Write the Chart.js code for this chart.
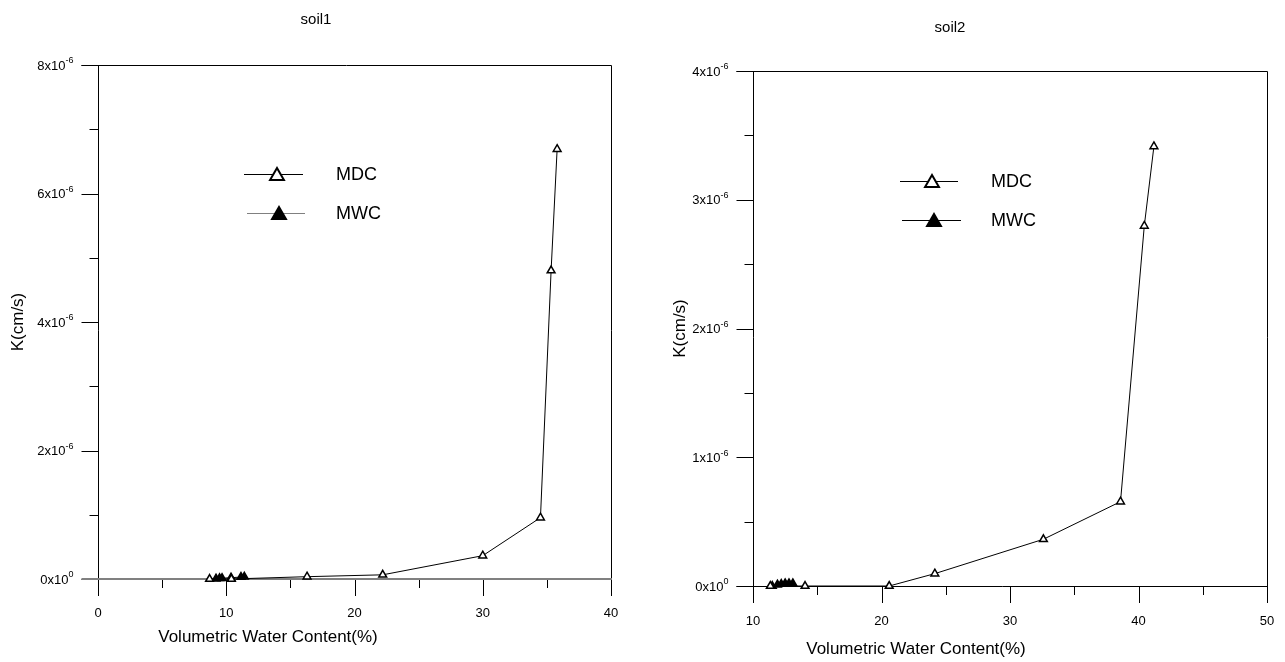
<!DOCTYPE html>
<html>
<head>
<meta charset="utf-8">
<script src="https://cdn.jsdelivr.net/npm/chart.js@4.4.1/dist/chart.umd.min.js"></script>
<style>
  body { margin: 0; background: #fff; }
  #wrap { position: relative; width: 1285px; height: 662px; }
  canvas { position: absolute; top: 0; }
</style>
</head>
<body>
<div id="wrap">
  <canvas id="soil1" width="642" height="662" style="left:0"></canvas>
  <canvas id="soil2" width="643" height="662" style="left:642px"></canvas>
</div>
<script>
// soil1 - volumetric water content (%) vs K (cm/s)
const soil1MdcX = [8.7, 10.4, 16.3, 22.2, 30.0, 34.5, 35.33, 35.8];
const soil1MdcK = [0, 0, 0.036e-6, 0.065e-6, 0.363e-6, 0.955e-6, 4.80e-6, 6.69e-6];
const soil1MwcX = [9.2, 9.48, 9.67, 10.37, 11.15, 11.41];
const soil1MwcK = [0.005e-6, 0.01e-6, 0.012e-6, 0.02e-6, 0.03e-6, 0.035e-6];
const soil1XTicks = [0, 10, 20, 30, 40];
const soil1KTicks = [0, 2e-6, 4e-6, 6e-6, 8e-6];

// soil2
const soil2MdcX = [11.35, 14.05, 20.6, 24.15, 32.6, 38.6, 40.45, 41.2];
const soil2MdcK = [0, 0, 0, 0.096e-6, 0.363e-6, 0.655e-6, 2.797e-6, 3.414e-6];
const soil2MwcX = [11.5, 11.9, 12.2, 12.5, 12.8, 13.1];
const soil2MwcK = [0, 0.01e-6, 0.015e-6, 0.02e-6, 0.02e-6, 0.02e-6];
const soil2XTicks = [10, 20, 30, 40, 50];
const soil2KTicks = [0, 1e-6, 2e-6, 3e-6, 4e-6];

const seriesNames = ["MDC", "MWC"];
const xAxisTitle = "Volumetric Water Content(%)";
const yAxisTitle = "K(cm/s)";

const FONT = "'Liberation Sans', Arial, sans-serif";
Chart.defaults.font.family = FONT;
Chart.defaults.color = "#000";

function toPoints(xs, ys) {
  return xs.map((x, i) => ({ x: x, y: ys[i] }));
}

function triangle(ctx, x, y, r, fill) {
  ctx.beginPath();
  let rad = 0;
  ctx.moveTo(x + Math.sin(rad) * r, y - Math.cos(rad) * r);
  rad += (2 * Math.PI) / 3;
  ctx.lineTo(x + Math.sin(rad) * r, y - Math.cos(rad) * r);
  rad += (2 * Math.PI) / 3;
  ctx.lineTo(x + Math.sin(rad) * r, y - Math.cos(rad) * r);
  ctx.closePath();
  ctx.fillStyle = fill;
  ctx.fill();
  ctx.stroke();
}

// frame, ticks and labels, titles and legend
const soilFrame = {
  id: "soilFrame",
  beforeDatasetsDraw(chart, args, o) {
    const { ctx, chartArea: a, scales } = chart;
    const x = scales.x, y = scales.y;
    const px = (v) => Math.round(v) + 0.5;
    const L = px(a.left), R = px(a.right), T = px(a.top), B = Math.round(a.bottom);
    const major = 16, minor = 8;

    ctx.save();
    ctx.strokeStyle = "#000";
    ctx.lineWidth = 1;
    ctx.beginPath();
    ctx.moveTo(L, T); ctx.lineTo(L, B + major + 1);
    ctx.moveTo(R, T); ctx.lineTo(R, B + major + 1);
    ctx.moveTo(L - major - 1, T); ctx.lineTo(R, T);
    // x ticks every 5
    const xt = o.xTicks;
    for (let v = xt[0]; v <= xt[xt.length - 1]; v += 5) {
      const p = px(x.getPixelForValue(v));
      const len = xt.includes(v) ? major : minor;
      ctx.moveTo(p, B); ctx.lineTo(p, B + len + 1);
    }
    // y ticks, minor ones halfway
    const yt = o.yTicks;
    yt.forEach((v, i) => {
      const p = px(y.getPixelForValue(v));
      ctx.moveTo(L - major - 1, p); ctx.lineTo(L, p);
      if (i < yt.length - 1) {
        const q = px(y.getPixelForValue((v + yt[i + 1]) / 2));
        ctx.moveTo(L - minor - 1, q); ctx.lineTo(L, q);
      }
    });
    ctx.stroke();

    // x axis line (zero level)
    ctx.strokeStyle = o.axisColor;
    ctx.lineWidth = o.axisWidth;
    ctx.beginPath();
    const by = o.axisWidth % 2 ? B + 0.5 : B;
    ctx.moveTo(L - major - 1, by); ctx.lineTo(R + 0.5, by);
    ctx.stroke();

    ctx.fillStyle = "#000";
    ctx.textBaseline = "middle";

    // x tick labels
    ctx.textAlign = "center";
    ctx.font = "13px " + FONT;
    xt.forEach((v) => {
      ctx.fillText(String(v), x.getPixelForValue(v), B + o.xLabelOff);
    });

    // y tick labels  m x10^e
    ctx.textAlign = "left";
    const end = L - major - 9;
    yt.forEach((v) => {
      const p = y.getPixelForValue(v);
      const m = Math.round(v / 1e-6);
      const main = m + "x10";
      const sup = v === 0 ? "0" : "-6";
      ctx.font = "9px " + FONT;
      const sw = ctx.measureText(sup).width;
      ctx.font = "13px " + FONT;
      const mw = ctx.measureText(main).width;
      ctx.fillText(main, end - sw - mw, p + 1);
      ctx.font = "9px " + FONT;
      ctx.fillText(sup, end - sw, p - 4);
    });

    // titles
    ctx.textAlign = "center";
    ctx.font = "15px " + FONT;
    ctx.fillText(o.title, o.titleX, o.titleY);
    ctx.font = "17px " + FONT;
    ctx.fillText(xAxisTitle, o.xTitleX, o.xTitleY);
    ctx.save();
    ctx.translate(o.yTitleX, (a.top + a.bottom) / 2);
    ctx.rotate(-Math.PI / 2);
    ctx.fillText(yAxisTitle, 0, 0);
    ctx.restore();

    // legend
    o.legend.forEach((it, i) => {
      ctx.strokeStyle = it.lineColor;
      ctx.lineWidth = 1;
      ctx.beginPath();
      ctx.moveTo(it.x1, it.y + 0.5); ctx.lineTo(it.x2, it.y + 0.5);
      ctx.stroke();
      ctx.strokeStyle = "#000";
      ctx.lineWidth = 2;
      triangle(ctx, it.tx, it.y + 2, 8, i === 0 ? "#fff" : "#000");
      ctx.fillStyle = "#000";
      ctx.textAlign = "left";
      ctx.font = "18px " + FONT;
      ctx.fillText(seriesNames[i], o.legendTextX, it.y + 1);
    });
    ctx.restore();
  },
};

function makeChart(id, c) {
  const line = {
    showLine: true,
    borderColor: "#000",
    borderWidth: 1,
    pointStyle: "triangle",
    pointRadius: 4.5,
    pointBorderWidth: 1.5,
    pointBorderColor: "#000",
    clip: false,
  };
  return new Chart(document.getElementById(id), {
    type: "scatter",
    data: {
      datasets: [
        Object.assign({ label: seriesNames[0], data: toPoints(c.mdcX, c.mdcK), pointBackgroundColor: "#fff" }, line),
        Object.assign({ label: seriesNames[1], data: toPoints(c.mwcX, c.mwcK), pointBackgroundColor: "#000" }, line),
      ],
    },
    options: {
      responsive: false,
      animation: false,
      layout: { padding: { top: c.top, right: c.right, left: 0, bottom: 0 } },
      scales: {
        x: {
          type: "linear",
          min: c.xTicks[0],
          max: c.xTicks[c.xTicks.length - 1],
          afterBuildTicks: (s) => { s.ticks = c.xTicks.map((v) => ({ value: v })); },
          afterFit: (s) => { s.height = c.xAxisH; },
          grid: { display: false, drawTicks: false },
          border: { display: false },
          ticks: { display: false },
        },
        y: {
          type: "linear",
          min: 0,
          max: c.yTicks[c.yTicks.length - 1],
          afterBuildTicks: (s) => { s.ticks = c.yTicks.map((v) => ({ value: v })); },
          afterFit: (s) => { s.width = c.yAxisW; },
          grid: { display: false, drawTicks: false },
          border: { display: false },
          ticks: { display: false },
        },
      },
      plugins: {
        legend: { display: false },
        tooltip: { enabled: false },
        soilFrame: c.frame,
      },
    },
    plugins: [soilFrame],
  });
}

makeChart("soil1", {
  mdcX: soil1MdcX, mdcK: soil1MdcK, mwcX: soil1MwcX, mwcK: soil1MwcK,
  xTicks: soil1XTicks, yTicks: soil1KTicks,
  top: 65, right: 31, yAxisW: 98, xAxisH: 83,
  frame: {
    title: "soil1", titleX: 316, titleY: 20,
    xTitleX: 268, xTitleY: 637, yTitleX: 18,
    xTicks: soil1XTicks, yTicks: soil1KTicks, xLabelOff: 34,
    axisColor: "#808080", axisWidth: 2,
    legendTextX: 336,
    legend: [
      { x1: 244, x2: 303, y: 174, tx: 277, lineColor: "#000" },
      { x1: 247, x2: 305, y: 213, tx: 279, lineColor: "#808080" },
    ],
  },
});

makeChart("soil2", {
  mdcX: soil2MdcX, mdcK: soil2MdcK, mwcX: soil2MwcX, mwcK: soil2MwcK,
  xTicks: soil2XTicks, yTicks: soil2KTicks,
  top: 71, right: 18, yAxisW: 111, xAxisH: 76,
  frame: {
    title: "soil2", titleX: 308, titleY: 28,
    xTitleX: 274, xTitleY: 649, yTitleX: 38,
    xTicks: soil2XTicks, yTicks: soil2KTicks, xLabelOff: 35,
    axisColor: "#000", axisWidth: 1,
    legendTextX: 349,
    legend: [
      { x1: 258, x2: 316, y: 181, tx: 290, lineColor: "#000" },
      { x1: 260, x2: 319, y: 220, tx: 292, lineColor: "#000" },
    ],
  },
});
</script>
</body>
</html>
